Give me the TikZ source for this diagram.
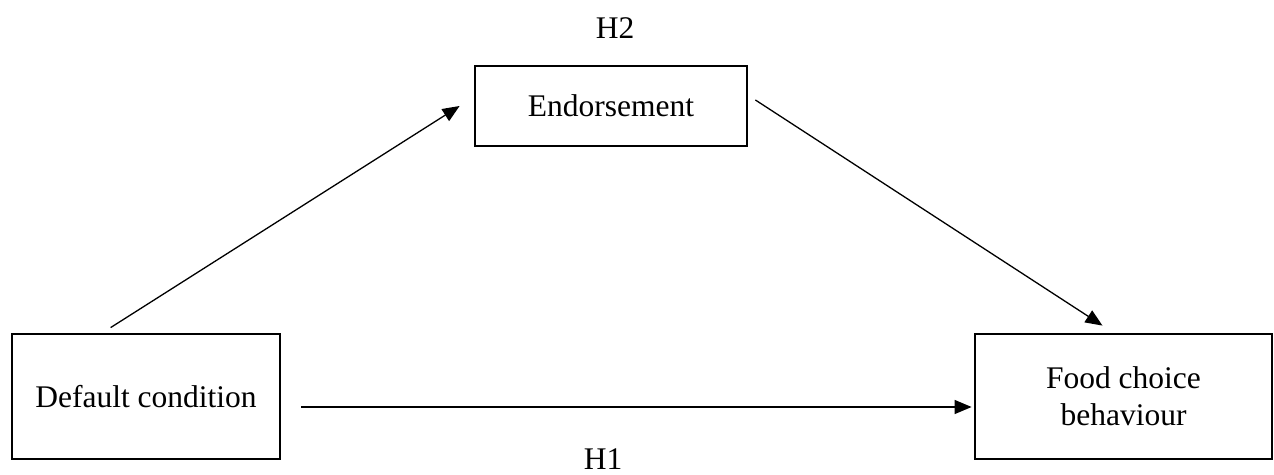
\documentclass[tikz,border=0pt]{standalone}
\usepackage{fontspec}
\setmainfont{Liberation Serif}
\usetikzlibrary{arrows.meta}
\begin{document}
\begin{tikzpicture}[x=1pt,y=-1pt,
  box/.style={draw, line width=2.8pt, inner sep=0pt, align=center, font=\fontsize{31.5}{37}\selectfont},
  lbl/.style={inner sep=0pt, font=\fontsize{31.5}{37}\selectfont},
  arr/.style={line width=1.3pt, -{Triangle[length=17pt,width=14pt]}}]
\useasboundingbox (0,0) rectangle (1274,474);
\node[box, minimum width=272pt, minimum height=80pt] (en) at (611,106) {Endorsement};
\node[box, minimum width=268pt, minimum height=125pt] (dc) at (146,396.5) {Default condition};
\node[box, minimum width=297pt, minimum height=125pt] (fc) at (1123.5,396.5) {Food choice\\behaviour};
\node[lbl] (h2) at (615,28) {H2};
\node[lbl] (h1) at (603,459) {H1};
\draw[arr] ([xshift=100pt,yshift=5pt]dc.north west) -- ([xshift=-14pt]en.west);
\draw[arr] ([xshift=7pt,yshift=6pt]en.east) -- ([xshift=-21pt,yshift=7pt]fc.north);
\draw[arr] ([xshift=20pt,yshift=-10.5pt]dc.east) -- ([xshift=-2pt,yshift=-10.5pt]fc.west);
\end{tikzpicture}
\end{document}
